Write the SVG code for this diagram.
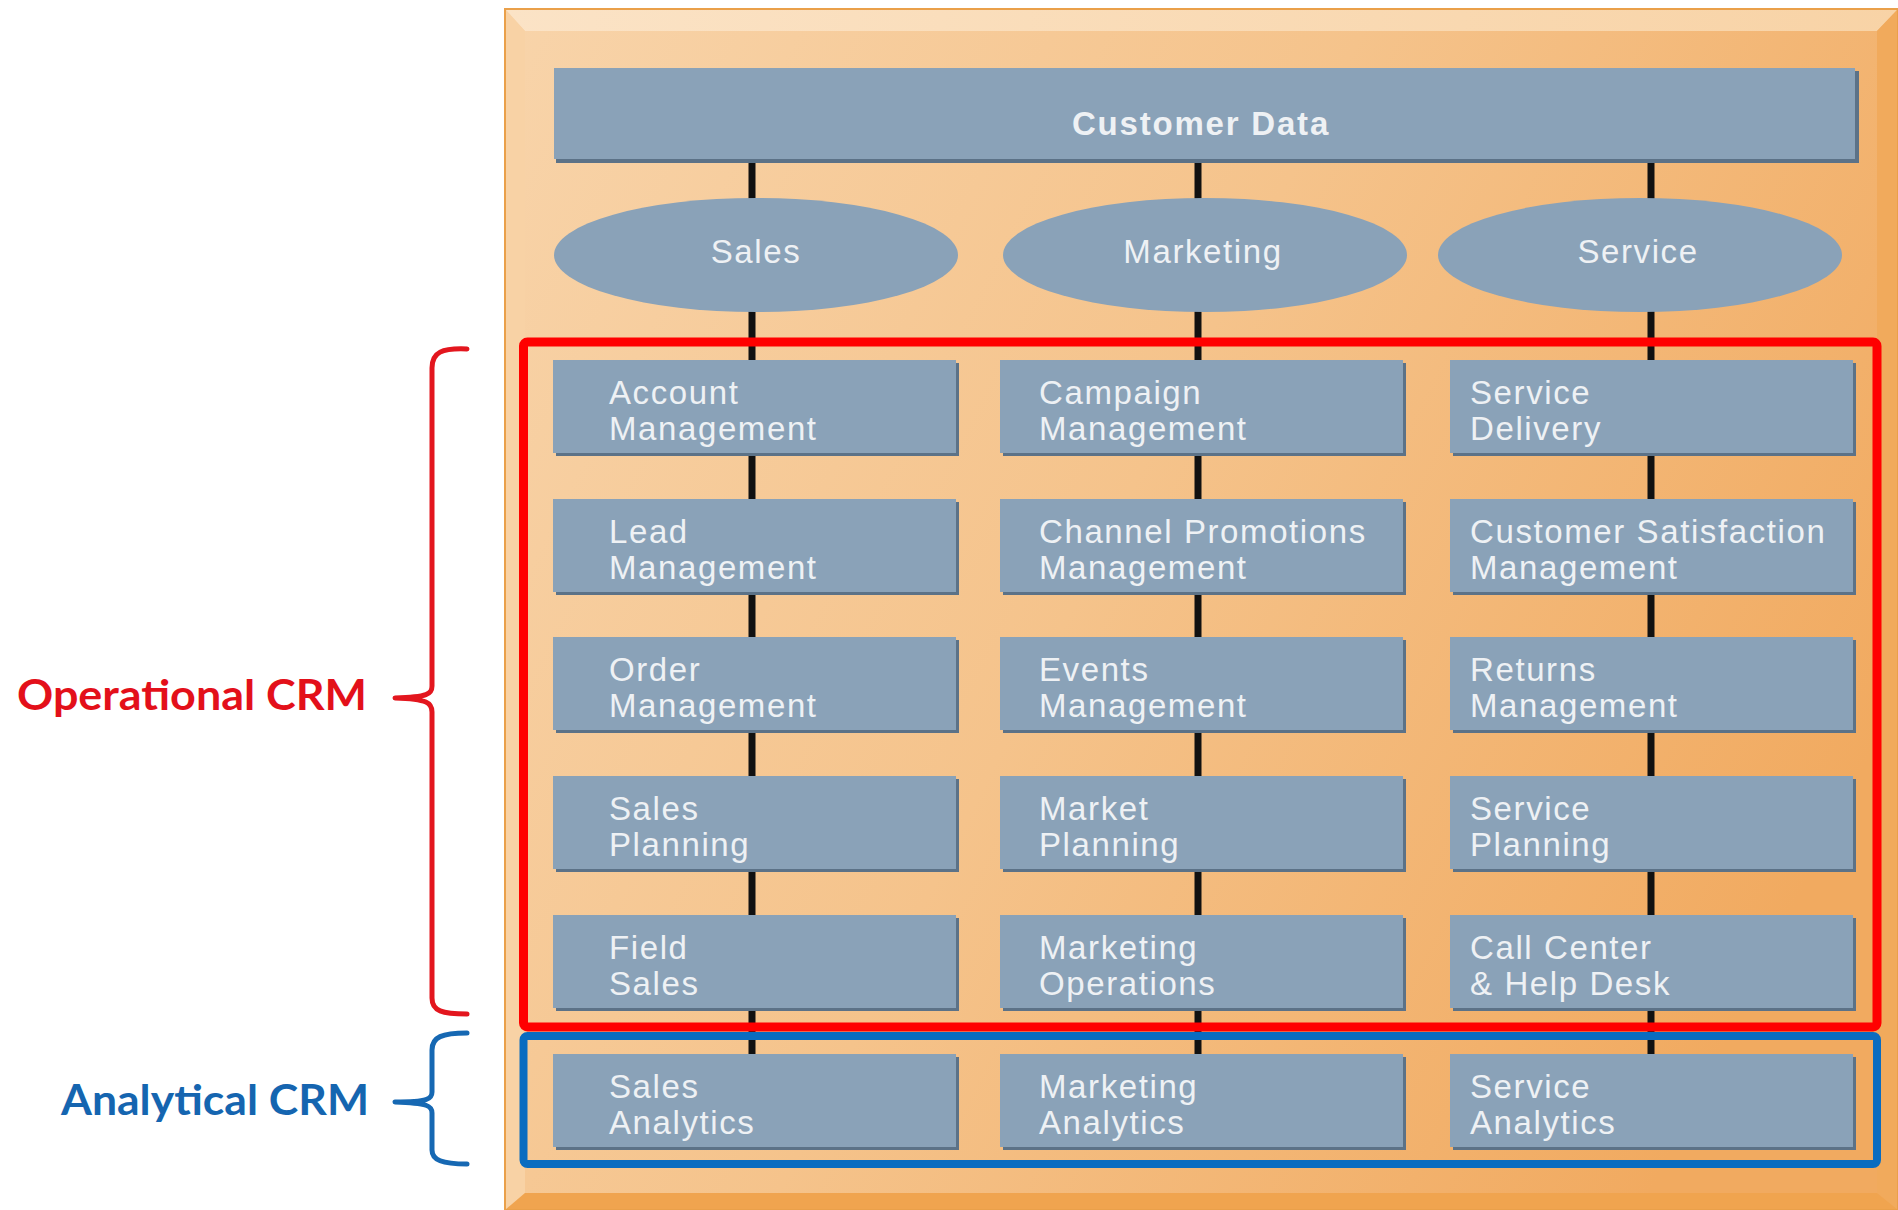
<svg xmlns="http://www.w3.org/2000/svg" width="1898" height="1210" viewBox="0 0 1898 1210">
<defs>
<linearGradient id="panelG" x1="505" y1="0" x2="1898" y2="700" gradientUnits="userSpaceOnUse">
<stop offset="0" stop-color="#f8d4aa"/>
<stop offset="0.5" stop-color="#f5c38b"/>
<stop offset="1" stop-color="#f1aa60"/>
</linearGradient>
<linearGradient id="topBev" x1="505" y1="0" x2="1898" y2="0" gradientUnits="userSpaceOnUse">
<stop offset="0" stop-color="#fbe3c6"/>
<stop offset="1" stop-color="#f8d3a6"/>
</linearGradient>
<style>
.box{fill:#8aa2b8}
.shd{fill:#5c7287}
.lbl{font-family:"Liberation Sans",Arial,sans-serif;font-size:33px;fill:#eef1f4;letter-spacing:1.6px}
.conn{stroke:#111;stroke-width:7}
.brace{fill:none;stroke-width:5;stroke-linecap:round;stroke-linejoin:round}
</style>
</defs>
<rect width="1898" height="1210" fill="#ffffff"/>
<g id="panel">
<rect x="505" y="9" width="1393" height="1201" fill="url(#panelG)"/>
<polygon points="505,9 1898,9 1877,31 525,31" fill="url(#topBev)"/>
<polygon points="505,9 525,31 525,1193 505,1210" fill="#f8d2a5"/>
<polygon points="1898,9 1898,1210 1877,1193 1877,31" fill="#f1aa5c"/>
<polygon points="505,1210 525,1193 1877,1193 1898,1210" fill="#f0a44f"/>
<rect x="505" y="9" width="1393" height="1201" fill="none" stroke="#eaa04a" stroke-width="2"/>
</g>
<g id="connectors">
<line class="conn" x1="752" y1="160" x2="752" y2="202"/>
<line class="conn" x1="1198" y1="160" x2="1198" y2="202"/>
<line class="conn" x1="1651" y1="160" x2="1651" y2="202"/>
<line class="conn" x1="752" y1="308" x2="752" y2="362"/>
<line class="conn" x1="1198" y1="308" x2="1198" y2="362"/>
<line class="conn" x1="1651" y1="308" x2="1651" y2="362"/>
<line class="conn" x1="752" y1="454" x2="752" y2="501"/>
<line class="conn" x1="1198" y1="454" x2="1198" y2="501"/>
<line class="conn" x1="1651" y1="454" x2="1651" y2="501"/>
<line class="conn" x1="752" y1="593" x2="752" y2="639"/>
<line class="conn" x1="1198" y1="593" x2="1198" y2="639"/>
<line class="conn" x1="1651" y1="593" x2="1651" y2="639"/>
<line class="conn" x1="752" y1="731" x2="752" y2="778"/>
<line class="conn" x1="1198" y1="731" x2="1198" y2="778"/>
<line class="conn" x1="1651" y1="731" x2="1651" y2="778"/>
<line class="conn" x1="752" y1="870" x2="752" y2="917"/>
<line class="conn" x1="1198" y1="870" x2="1198" y2="917"/>
<line class="conn" x1="1651" y1="870" x2="1651" y2="917"/>
<line class="conn" x1="752" y1="1009" x2="752" y2="1056"/>
<line class="conn" x1="1198" y1="1009" x2="1198" y2="1056"/>
<line class="conn" x1="1651" y1="1009" x2="1651" y2="1056"/>
</g>
<g id="customer-data">
<rect class="shd" x="556" y="71" width="1303" height="92"/>
<rect class="box" x="554" y="68" width="1301" height="91"/>
<text class="lbl" x="1201" y="135" text-anchor="middle" font-weight="bold" style="letter-spacing:1.8px">Customer Data</text>
</g>
<g id="sales">
<ellipse class="box" cx="756" cy="255" rx="202" ry="57"/>
<text class="lbl" x="756" y="263" text-anchor="middle">Sales</text>
</g>
<g id="marketing">
<ellipse class="box" cx="1205" cy="255" rx="202" ry="57"/>
<text class="lbl" x="1203" y="263" text-anchor="middle">Marketing</text>
</g>
<g id="service">
<ellipse class="box" cx="1640" cy="255" rx="202" ry="57"/>
<text class="lbl" x="1638" y="263" text-anchor="middle">Service</text>
</g>
<g id="account-management"><rect class="shd" x="556" y="363" width="403" height="93"/><rect class="box" x="553" y="360" width="403" height="93"/><text class="lbl" x="609" y="404">Account</text><text class="lbl" x="609" y="440">Management</text></g>
<g id="campaign-management"><rect class="shd" x="1003" y="363" width="403" height="93"/><rect class="box" x="1000" y="360" width="403" height="93"/><text class="lbl" x="1039" y="404">Campaign</text><text class="lbl" x="1039" y="440">Management</text></g>
<g id="service-delivery"><rect class="shd" x="1453" y="363" width="403" height="93"/><rect class="box" x="1450" y="360" width="403" height="93"/><text class="lbl" x="1470" y="404">Service</text><text class="lbl" x="1470" y="440">Delivery</text></g>
<g id="lead-management"><rect class="shd" x="556" y="502" width="403" height="93"/><rect class="box" x="553" y="499" width="403" height="93"/><text class="lbl" x="609" y="543">Lead</text><text class="lbl" x="609" y="579">Management</text></g>
<g id="channel-promotions-management"><rect class="shd" x="1003" y="502" width="403" height="93"/><rect class="box" x="1000" y="499" width="403" height="93"/><text class="lbl" x="1039" y="543">Channel Promotions</text><text class="lbl" x="1039" y="579">Management</text></g>
<g id="customer-satisfaction-management"><rect class="shd" x="1453" y="502" width="403" height="93"/><rect class="box" x="1450" y="499" width="403" height="93"/><text class="lbl" x="1470" y="543">Customer Satisfaction</text><text class="lbl" x="1470" y="579">Management</text></g>
<g id="order-management"><rect class="shd" x="556" y="640" width="403" height="93"/><rect class="box" x="553" y="637" width="403" height="93"/><text class="lbl" x="609" y="681">Order</text><text class="lbl" x="609" y="717">Management</text></g>
<g id="events-management"><rect class="shd" x="1003" y="640" width="403" height="93"/><rect class="box" x="1000" y="637" width="403" height="93"/><text class="lbl" x="1039" y="681">Events</text><text class="lbl" x="1039" y="717">Management</text></g>
<g id="returns-management"><rect class="shd" x="1453" y="640" width="403" height="93"/><rect class="box" x="1450" y="637" width="403" height="93"/><text class="lbl" x="1470" y="681">Returns</text><text class="lbl" x="1470" y="717">Management</text></g>
<g id="sales-planning"><rect class="shd" x="556" y="779" width="403" height="93"/><rect class="box" x="553" y="776" width="403" height="93"/><text class="lbl" x="609" y="820">Sales</text><text class="lbl" x="609" y="856">Planning</text></g>
<g id="market-planning"><rect class="shd" x="1003" y="779" width="403" height="93"/><rect class="box" x="1000" y="776" width="403" height="93"/><text class="lbl" x="1039" y="820">Market</text><text class="lbl" x="1039" y="856">Planning</text></g>
<g id="service-planning"><rect class="shd" x="1453" y="779" width="403" height="93"/><rect class="box" x="1450" y="776" width="403" height="93"/><text class="lbl" x="1470" y="820">Service</text><text class="lbl" x="1470" y="856">Planning</text></g>
<g id="field-sales"><rect class="shd" x="556" y="918" width="403" height="93"/><rect class="box" x="553" y="915" width="403" height="93"/><text class="lbl" x="609" y="959">Field</text><text class="lbl" x="609" y="995">Sales</text></g>
<g id="marketing-operations"><rect class="shd" x="1003" y="918" width="403" height="93"/><rect class="box" x="1000" y="915" width="403" height="93"/><text class="lbl" x="1039" y="959">Marketing</text><text class="lbl" x="1039" y="995">Operations</text></g>
<g id="call-center-help-desk"><rect class="shd" x="1453" y="918" width="403" height="93"/><rect class="box" x="1450" y="915" width="403" height="93"/><text class="lbl" x="1470" y="959">Call Center</text><text class="lbl" x="1470" y="995">&amp; Help Desk</text></g>
<g id="sales-analytics"><rect class="shd" x="556" y="1057" width="403" height="93"/><rect class="box" x="553" y="1054" width="403" height="93"/><text class="lbl" x="609" y="1098">Sales</text><text class="lbl" x="609" y="1134">Analytics</text></g>
<g id="marketing-analytics"><rect class="shd" x="1003" y="1057" width="403" height="93"/><rect class="box" x="1000" y="1054" width="403" height="93"/><text class="lbl" x="1039" y="1098">Marketing</text><text class="lbl" x="1039" y="1134">Analytics</text></g>
<g id="service-analytics"><rect class="shd" x="1453" y="1057" width="403" height="93"/><rect class="box" x="1450" y="1054" width="403" height="93"/><text class="lbl" x="1470" y="1098">Service</text><text class="lbl" x="1470" y="1134">Analytics</text></g>
<g id="operational-crm">
<rect x="523.5" y="342" width="1353.5" height="685" rx="4" fill="none" stroke="#ff0000" stroke-width="9"/>
<path class="brace" stroke="#e3161e" d="M467,349 C442,348 432,352 432,368 L432,686 C432,694 428,697 395,698 C428,699 432,703 432,712 L432,998 C432,1011 442,1014 467,1014"/>
<text x="17" y="710" font-family="Lato,'Open Sans',sans-serif" font-weight="bold" font-size="42" fill="#e3101a" textLength="350" lengthAdjust="spacingAndGlyphs">Operational CRM</text>
</g>
<g id="analytical-crm">
<rect x="523.5" y="1036" width="1353.5" height="128" rx="4" fill="none" stroke="#0a6cc0" stroke-width="8"/>
<path class="brace" stroke="#1668b3" d="M467,1033 C442,1033 432,1037 432,1050 L432,1092 C432,1099 428,1102 395,1102 C428,1103 432,1106 432,1113 L432,1150 C432,1160 442,1164 467,1164"/>
<text x="61" y="1115" font-family="Lato,'Open Sans',sans-serif" font-weight="bold" font-size="42" fill="#1565b0" textLength="308" lengthAdjust="spacingAndGlyphs">Analytical CRM</text>
</g>
</svg>
